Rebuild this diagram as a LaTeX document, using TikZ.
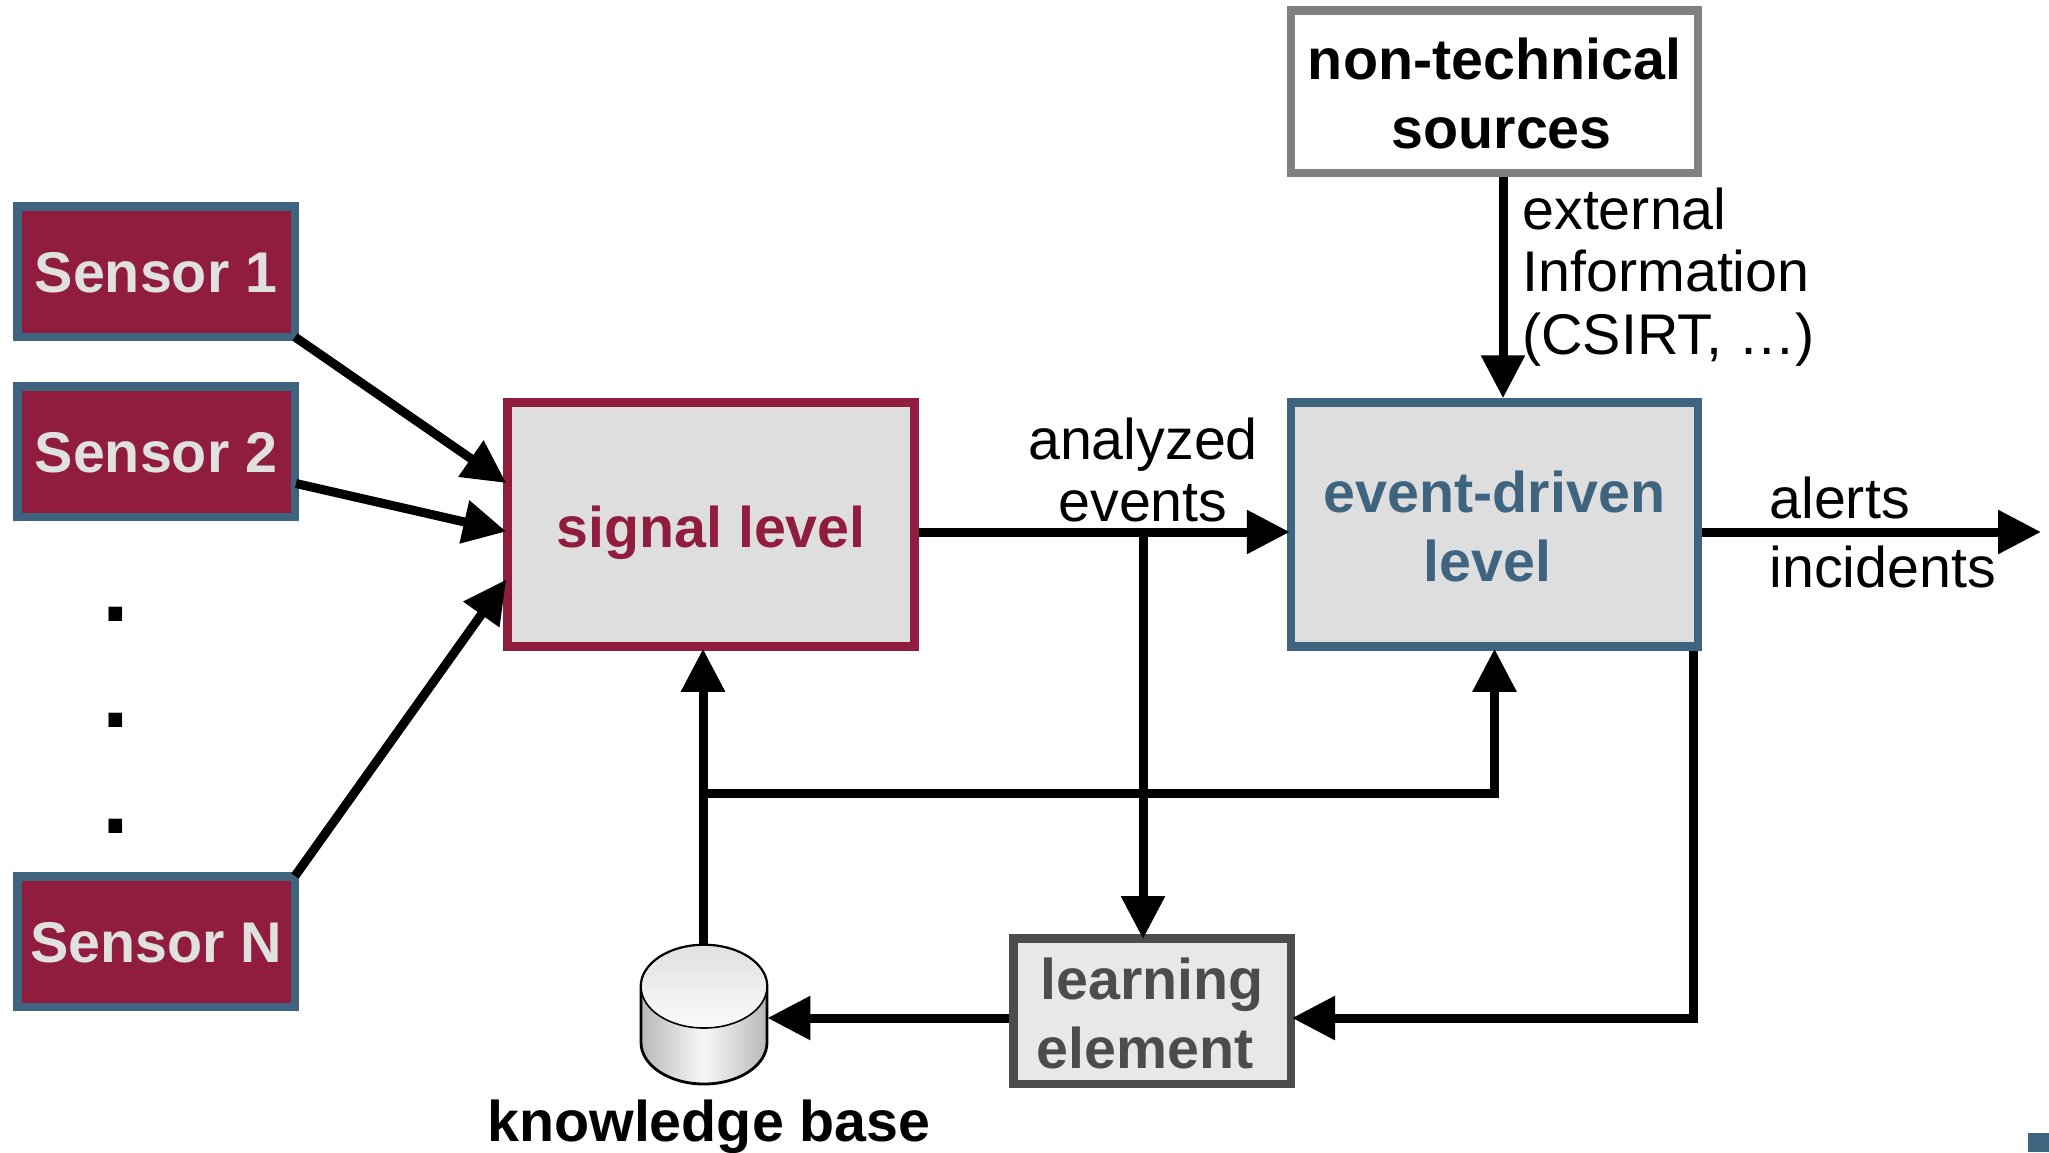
\documentclass[tikz,border=0pt]{standalone}
\usepackage{fontspec}
\setmainfont{Liberation Sans}
\usetikzlibrary{arrows.meta}
\definecolor{crimson}{HTML}{901C3E}
\definecolor{slateblue}{HTML}{3F6480}
\newcommand{\firstline}{\rule{0pt}{23pt}}
\tikzset{
    box/.style={draw, line width=4.25pt, inner sep=0pt, align=center, font=\fontsize{28.7}{34.7}\selectfont\bfseries},
    sensorbox/.style={box, draw=slateblue, fill=crimson, text=black!12, minimum width=138.75pt, minimum height=65.25pt},
    levelbox/.style={box, fill=black!13, minimum width=203.5pt, minimum height=122pt},
    dotmark/.style={inner sep=0pt, font=\fontsize{48}{48}\selectfont\bfseries},
    label/.style={inner sep=0pt, font=\fontsize{28.7}{31.4}\selectfont},
    arrow/.style={line width=4.5pt, -{Triangle[length=21.5pt, width=21pt]}},
    line/.style={line width=4.5pt},
}
\begin{document}
\begin{tikzpicture}[x=0.5pt, y=-0.5pt]
            \useasboundingbox (0,0) rectangle (2049,1152);

            \node[sensorbox] (sensor1) at (156,271.5) {\rule{0pt}{21.7pt}Sensor 1};
            \node[sensorbox] (sensor2) at (156,451.5) {\rule{0pt}{21.7pt}Sensor 2};
            \node[sensorbox] (sensorN) at (156,941.5) {\rule{0pt}{21.7pt}Sensor N};
            \node[dotmark] (dot1) at (116,614) {.};
            \node[dotmark] (dot2) at (116,720) {.};
            \node[dotmark] (dot3) at (116,826) {.};

            \node[levelbox, draw=crimson, text=crimson] (signal) at (711,524.5) {\rule{0pt}{29pt}signal level};
            \node[levelbox, draw=slateblue, text=slateblue] (event) at (1494.5,524.5) {\firstline event-driven\\level\hspace*{.25em}};
            \node[box, draw=black!50, fill=white, minimum width=203.5pt, minimum height=81.25pt] (sources) at (1494.5,91.5) {\firstline non-technical\\\hspace*{.25em}sources};
            \node[box, draw=black!70, fill=black!9, text=black!70, minimum width=138.75pt, minimum height=72.75pt] (learning) at (1152,1011) {\firstline learning\\element\hspace*{.25em}};

            \node[draw=none, minimum width=63pt, minimum height=69.5pt, inner sep=0pt] (kb) at (704,1014.5) {};
            \shade[left color=black!28, right color=black!28, middle color=black!3, draw=black, line width=1.4pt]
                (641,986.5) -- (641,1042.5) arc[start angle=180, end angle=360, x radius=31.5pt, y radius=20.75pt]
                -- (767,986.5) arc[start angle=0, end angle=180, x radius=31.5pt, y radius=20.75pt] -- cycle;
            \shade[top color=black!12, bottom color=black!2, draw=black, line width=0.8pt]
                (704,986.5) ellipse[x radius=31.5pt, y radius=20.75pt];
            \node[inner sep=0pt, font=\fontsize{28.7}{34}\selectfont\bfseries] (kblabel) at (709,1127) {knowledge base};

            \coordinate (analyzed) at (1143,532);
            \coordinate (feedback) at (703,793);
            \coordinate (corner) at (1693,1018);
            \coordinate (out) at (2041,532);

            \node[label, align=center] (eventslabel) at (1143,470) {analyzed\\events};
            \node[label, align=left, anchor=west] (externallabel) at (1522,277) {external\\Information\\(CSIRT, …)};
            \node[label, align=left, anchor=west, font=\fontsize{28.7}{34.5}\selectfont] (alertslabel) at (1769,532) {alerts\\incidents};

            \draw[arrow] ([xshift=-2pt, yshift=2pt]sensor1.south east) -- ([xshift=1.5pt, yshift=20.75pt]signal.west);
            \draw[arrow] ([xshift=-1.5pt, yshift=-16pt]sensor2.east) -- ([xshift=1.5pt, yshift=-3.5pt]signal.west);
            \draw[arrow] ([xshift=-2pt, yshift=-2pt]sensorN.north east) -- ([xshift=1.5pt, yshift=-27.5pt]signal.west);

            \draw[arrow] (signal.east |- analyzed) -- ([xshift=1.5pt]event.west |- analyzed);
            \draw[arrow] (analyzed) -- ([yshift=-2.5pt]analyzed |- learning.north);
            \draw[arrow] (event.east |- out) -- (out);
            \draw[arrow] (sources.south -| 1503,0) -- (event.north -| 1503,0);

            \draw[arrow] (kb.north -| feedback) -- ([yshift=1pt]signal.south -| feedback);
            \draw[arrow] (feedback) -- (feedback -| event.south) -- ([yshift=1pt]event.south);
            \draw[line] (event.south -| corner) -- (corner);
            \draw[arrow] ([xshift=2.25pt]corner) -- ([xshift=-1.5pt]learning.east |- corner);
            \draw[arrow] (learning.west |- corner) -- (kb.east |- corner);

            \fill[slateblue] (2028,1133) rectangle (2049,1152);
        \end{tikzpicture}
\end{document}
